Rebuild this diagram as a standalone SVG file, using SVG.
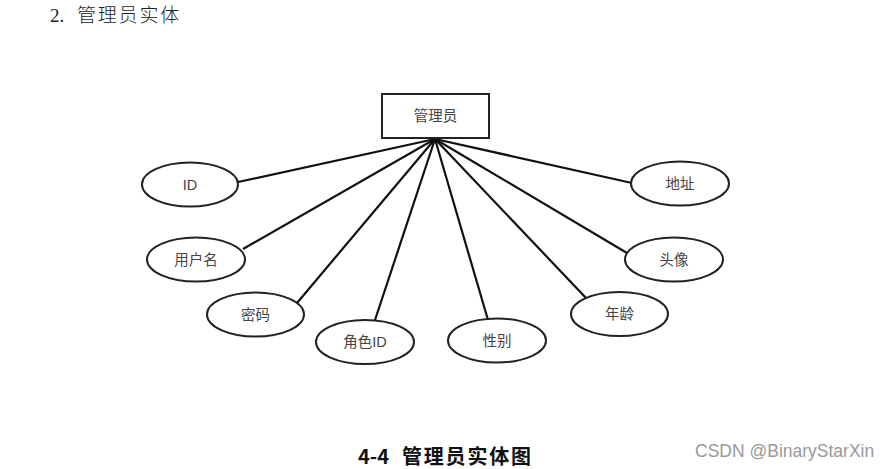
<svg xmlns="http://www.w3.org/2000/svg" width="890" height="469" viewBox="0 0 890 469">
<style>
.attr ellipse{fill:#fff;stroke:#222;stroke-width:2}
.ent rect{fill:#fff;stroke:#222;stroke-width:2}
.lbl{font-family:"Liberation Sans","Noto Sans CJK SC",sans-serif;font-size:14.5px;fill:#444;text-anchor:middle;dominant-baseline:central}
#edges line{stroke:#111;stroke-width:2.2}
</style>
<rect width="890" height="469" fill="#fff"/>
<text x="50" y="21.5" font-family="'Liberation Serif',serif" font-size="19" fill="#222">2.</text>
<text x="77" y="21.5" font-family="'Noto Sans CJK SC',serif" font-size="19" font-weight="300" letter-spacing="1.8" fill="#222">管理员实体</text>
<g id="edges">
<line x1="435" y1="139" x2="238" y2="182"/>
<line x1="435" y1="139" x2="243" y2="249"/>
<line x1="435" y1="139" x2="297" y2="303"/>
<line x1="435" y1="139" x2="375" y2="320"/>
<line x1="435" y1="139" x2="488" y2="320"/>
<line x1="435" y1="139" x2="586" y2="298"/>
<line x1="435" y1="139" x2="627" y2="253"/>
<line x1="435" y1="139" x2="632" y2="183"/>
</g>
<g id="n-admin" class="ent"><rect x="382" y="94" width="107" height="44"/><text class="lbl" x="435.5" y="116">管理员</text></g>
<g id="n-id" class="attr"><ellipse cx="190" cy="184.5" rx="48" ry="22"/><text class="lbl" x="190" y="184.5">ID</text></g>
<g id="n-username" class="attr"><ellipse cx="196" cy="259.5" rx="49" ry="22"/><text class="lbl" x="196" y="259.5">用户名</text></g>
<g id="n-password" class="attr"><ellipse cx="255.5" cy="314.5" rx="48.5" ry="22"/><text class="lbl" x="255.5" y="314.5">密码</text></g>
<g id="n-roleid" class="attr"><ellipse cx="365" cy="342" rx="49" ry="22"/><text class="lbl" x="365" y="342">角色ID</text></g>
<g id="n-gender" class="attr"><ellipse cx="497" cy="340.5" rx="49" ry="22"/><text class="lbl" x="497" y="340.5">性别</text></g>
<g id="n-age" class="attr"><ellipse cx="619.5" cy="314" rx="48.5" ry="22"/><text class="lbl" x="619.5" y="314">年龄</text></g>
<g id="n-avatar" class="attr"><ellipse cx="674" cy="259.5" rx="49" ry="22"/><text class="lbl" x="674" y="259.5">头像</text></g>
<g id="n-address" class="attr"><ellipse cx="680" cy="183.5" rx="49" ry="22"/><text class="lbl" x="680" y="183.5">地址</text></g>
<text x="358" y="464" font-family="'Noto Sans CJK SC',sans-serif" font-weight="bold" font-size="20" fill="#111">4-4</text>
<text x="402" y="464" font-family="'Noto Sans CJK SC',sans-serif" font-weight="bold" font-size="20" letter-spacing="1.8" fill="#111">管理员实体图</text>
<text x="695" y="457" font-family="'Liberation Sans',sans-serif" font-size="17.5" fill="#999">CSDN @BinaryStarXin</text>
</svg>
